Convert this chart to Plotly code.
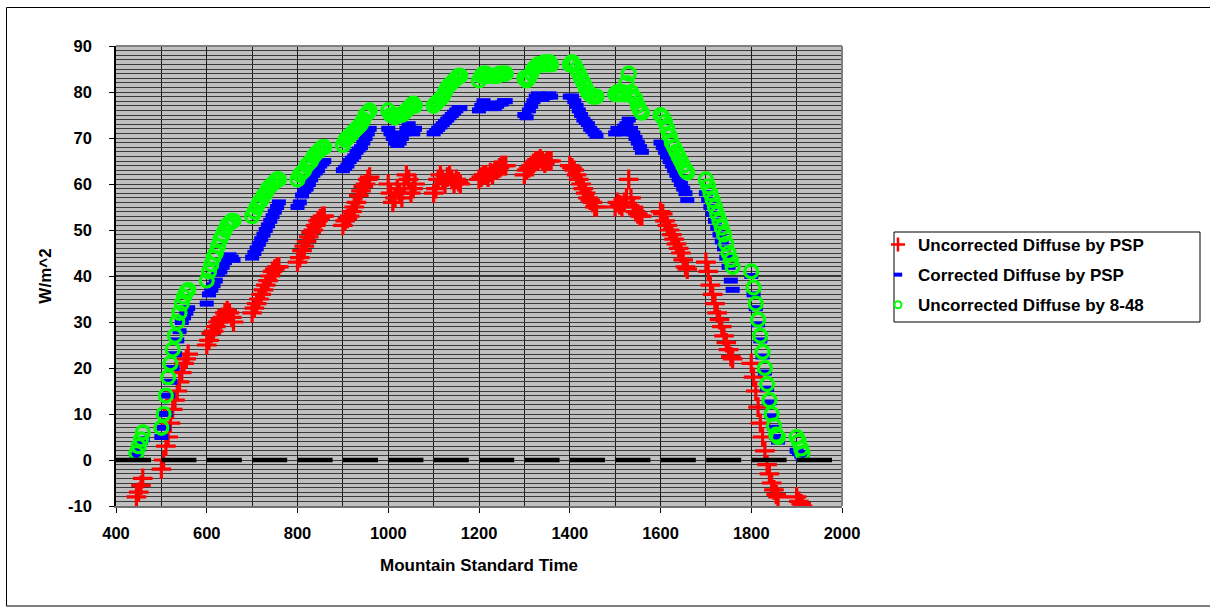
import plotly.graph_objects as go

# Mountain Standard Time (HHMM)
times = [
    445, 450, 455, 459,
    500, 505, 510, 515, 520, 525, 530, 535, 540, 545, 550, 555, 559,
    600, 605, 610, 615, 620, 625, 630, 635, 640, 645, 650, 655, 659,
    700, 705, 710, 715, 720, 725, 730, 735, 740, 745, 750, 755, 759,
    800, 805, 810, 815, 820, 825, 830, 835, 840, 845, 850, 855, 859,
    900, 905, 910, 915, 920, 925, 930, 935, 940, 945, 950, 955, 959,
    1000, 1005, 1010, 1015, 1020, 1025, 1030, 1035, 1040, 1045, 1050, 1055, 1059,
    1100, 1105, 1110, 1115, 1120, 1125, 1130, 1135, 1140, 1145, 1150, 1155, 1159,
    1200, 1205, 1210, 1215, 1220, 1225, 1230, 1235, 1240, 1245, 1250, 1255, 1259,
    1300, 1305, 1310, 1315, 1320, 1325, 1330, 1335, 1340, 1345, 1350, 1355, 1359,
    1400, 1405, 1410, 1415, 1420, 1425, 1430, 1435, 1440, 1445, 1450, 1455, 1459,
    1500, 1505, 1510, 1515, 1520, 1525, 1530, 1535, 1540, 1545, 1550, 1555, 1559,
    1600, 1605, 1610, 1615, 1620, 1625, 1630, 1635, 1640, 1645, 1650, 1655, 1659,
    1700, 1705, 1710, 1715, 1720, 1725, 1730, 1735, 1740, 1745, 1750, 1755, 1759,
    1800, 1805, 1810, 1815, 1820, 1825, 1830, 1835, 1840, 1845, 1850, 1855, 1859,
    1900, 1905, 1910, 1913,
]

uncorrected_psp = [
    -8, -7, -5.5, -4,
    -2, 0, 3, 5, 8, 11, 13, 15, 17, 19, 21, 22, 23,
    25, 26, 27.5, 28, 29, 30, 30.5, 31, 32, 32.5, 32, 31, 30,
    32, 33, 34, 35, 36, 37, 38, 39, 40, 41, 41.5, 42, 42,
    43, 44, 45.5, 46.5, 47.5, 48.5, 49.5, 50, 51, 52, 52.5, 53, 53,
    51, 52, 52.5, 53, 54, 55, 56, 57.5, 58.5, 59.5, 60, 61, 61.5,
    60, 58, 56, 57, 59, 58, 57, 60, 62, 61, 58, 59, 60,
    58, 59, 61, 62, 61, 60, 61.5, 62, 61, 60, 61, 60.5, 60,
    61, 61.5, 62, 62, 61.5, 62.5, 62, 63, 63, 63.5, 64, 64, 64,
    62, 63, 63.5, 64, 64.5, 65, 65, 65.5, 65, 64.5, 65, 65, 65,
    64, 63.5, 63, 62, 61, 60, 59, 58, 57, 56.5, 56, 55, 55,
    55, 56, 55.5, 55, 56, 57, 61, 57, 55, 54, 53.5, 53, 53,
    54, 53.5, 52, 51, 50, 49, 48, 47, 46, 45, 43.5, 42, 41.5,
    43, 41, 38, 36, 34, 32, 30.5, 29, 27, 25.5, 24, 22.5, 22,
    21, 18, 15, 11.5, 8, 5, 2, -1, -3, -5, -6.5, -7.5, -8,
    -8, -9, -9.5, -10,
]

corrected_psp = [
    1, 2.5, 4, 4.5,
    5, 7, 10, 14, 17, 20, 23, 26, 28, 30, 31, 32, 33,
    34, 36, 37, 38, 39, 40.5, 41, 42, 43, 44, 44.5, 44, 43.5,
    44, 45, 46, 47, 48, 49, 50, 51, 52, 53, 54, 55, 56,
    55, 56, 57.5, 58.5, 59, 60, 61, 62, 62.5, 63, 64, 64.5, 65,
    63, 63.5, 64, 65, 65.5, 66, 67, 67.5, 68, 69, 70, 71, 72,
    72, 71, 70, 69, 68.5, 69, 70, 71, 72, 73, 72, 71, 72,
    71, 71.5, 72, 72.5, 73, 73.5, 74, 74.5, 75, 75.5, 76, 76.5, 76.5,
    76, 77, 78, 77.5, 77, 76.5, 77, 76.5, 77, 77.5, 77.5, 78, 78,
    75, 74.5, 76, 77, 78, 79, 79.5, 79, 78.5, 79, 79, 79.5, 79,
    79, 79, 78, 77, 76, 75, 74, 73.5, 73, 72, 71.5, 71, 70.5,
    71, 72, 71.5, 71, 72.5, 73, 74, 72, 71, 70, 69, 68, 67,
    69, 68, 67, 66, 65, 64, 63, 62, 61, 60, 59, 58, 56.5,
    58, 56.5, 55, 53.5, 52, 50.5, 49, 47.5, 46, 44, 42, 39, 37,
    40, 36, 33, 29.5, 26, 22.5, 19, 15.5, 12.5, 9.5, 7, 5, 4,
    2, 1.5, 1, 0.5,
]

uncorrected_848 = [
    1.5, 3, 4.5, 6,
    7, 10, 14, 18, 21, 24, 27, 30, 32, 34, 35.5, 36.5, 37,
    39, 41, 42.5, 44, 45, 46.5, 48, 49, 50, 51, 51.5, 52, 52,
    53, 54, 55, 56, 56.5, 57.5, 58, 59, 59.5, 60, 60.5, 61, 61,
    61, 62, 62.5, 63, 64, 64.5, 65, 66, 66.5, 67, 67.5, 68, 68,
    68.5, 69.5, 70, 70.5, 71, 71.5, 72, 72.5, 73, 74, 75, 75.5, 76,
    76, 75, 75, 74.5, 75, 75, 75, 75.5, 76, 76.5, 77, 77.5, 77,
    77, 77.5, 78, 78.5, 79, 80, 81, 81.5, 82, 82.5, 83, 83.5, 83.5,
    82.5, 83.5, 84, 84, 83.5, 83.5, 83.5, 83.5, 83.5, 84, 84, 84, 84,
    83, 82.5, 83, 84, 85, 85.5, 86, 86, 86, 86.5, 86, 86.5, 86,
    86, 86.5, 86, 85, 84, 83, 82, 81, 80, 79.5, 79, 79, 79,
    79.5, 80, 79.5, 80, 79.5, 82, 84, 80, 79, 78.5, 77, 76, 75.5,
    75, 74.5, 73.5, 72, 70.5, 69, 68, 67, 66, 65, 64, 63, 62.5,
    61, 59.5, 58, 56.5, 55, 53.5, 52, 50.5, 49, 47, 45, 43.5, 42,
    41, 37.5, 34, 30.5, 27, 23.5, 20, 16.5, 13, 10, 7.5, 5.5, 5,
    5, 4, 2.5, 1.5,
]

zero_x = [400, 2000]
zero_y = [0, 0]

series_names = ["Uncorrected Diffuse by PSP", "Corrected Diffuse by PSP", "Uncorrected Diffuse by 8-48"]
x_ticks = [400, 600, 800, 1000, 1200, 1400, 1600, 1800, 2000]
x_tick_labels = ["400", "600", "800", "1000", "1200", "1400", "1600", "1800", "2000"]
y_ticks = [-10, 0, 10, 20, 30, 40, 50, 60, 70, 80, 90]
y_tick_labels = ["-10", "0", "10", "20", "30", "40", "50", "60", "70", "80", "90"]

FONT = "Liberation Sans, Arial, sans-serif"
RED, BLUE, GREEN = "#FF0000", "#0000FF", "#00FF00"

fig = go.Figure()
# data traces
fig.add_trace(go.Scatter(
    x=times, y=uncorrected_psp, mode="markers", name=series_names[0], showlegend=False,
    marker=dict(symbol="cross-thin", size=14, color=RED, line=dict(color=RED, width=3.2)),
))
fig.add_trace(go.Scatter(
    x=times, y=corrected_psp, mode="markers", name=series_names[1], showlegend=False,
    marker=dict(symbol="line-ew", size=10, color=BLUE, line=dict(color=BLUE, width=6)),
))
fig.add_trace(go.Scatter(
    x=times, y=uncorrected_848, mode="markers", name=series_names[2], showlegend=False,
    marker=dict(symbol="circle-open", size=13, color=GREEN, line=dict(color=GREEN, width=3.2)),
))
fig.add_trace(go.Scatter(
    x=zero_x, y=zero_y, mode="lines", showlegend=False, hoverinfo="skip",
    line=dict(color="black", width=4.5, dash="35px,10.4px"),
))
# legend entries (smaller symbols, as in the original legend)
fig.add_trace(go.Scatter(
    x=[None], y=[None], mode="markers", name=series_names[0], legendgroup="a",
    marker=dict(symbol="cross-thin", size=10, color=RED, line=dict(color=RED, width=2.5)),
))
fig.add_trace(go.Scatter(
    x=[None], y=[None], mode="markers", name=series_names[1], legendgroup="b",
    marker=dict(symbol="line-ew", size=6, color=BLUE, line=dict(color=BLUE, width=4)),
))
fig.add_trace(go.Scatter(
    x=[None], y=[None], mode="markers", name=series_names[2], legendgroup="c",
    marker=dict(symbol="circle-open", size=7, color=GREEN, line=dict(color=GREEN, width=2)),
))

W, H = 1210, 607
L, R, T, B = 116, 842, 46, 506

def px_x(p):
    return (p - L) / (R - L)

def px_y(p):
    return (B - p) / (B - T)

fig.update_layout(
    width=W, height=H,
    margin=dict(l=L, r=W - R, t=T, b=H - B, pad=0, autoexpand=False),
    paper_bgcolor="white",
    plot_bgcolor="#c0c0c0",
    font=dict(family=FONT, size=16, color="black"),
    showlegend=True,
    legend=dict(
        x=px_x(878), y=px_y(227), xanchor="left", yanchor="top",
        bgcolor="rgba(0,0,0,0)", borderwidth=0,
        font=dict(family=FONT, size=17, color="black", weight="bold"),
        tracegroupgap=5, itemsizing="trace",
    ),
    xaxis=dict(
        range=[400, 2000], tickmode="array", tickvals=x_ticks, ticktext=x_tick_labels,
        ticks="outside", ticklen=5, tickcolor="black", tickwidth=1,
        ticklabelstandoff=6,
        tickfont=dict(family=FONT, size=16.5, color="black", weight="bold"),
        showgrid=True, gridcolor="#1a1a1a", gridwidth=1.3,
        minor=dict(dtick=100, showgrid=True, gridcolor="#1a1a1a", gridwidth=1.3),
        showline=True, linecolor="#707070", linewidth=2,
        zeroline=False,
        title=dict(text="Mountain Standard Time", standoff=18,
                   font=dict(family=FONT, size=17, color="black", weight="bold")),
    ),
    yaxis=dict(
        range=[-10, 90], tickmode="array", tickvals=y_ticks, ticktext=y_tick_labels,
        ticks="outside", ticklen=5, tickcolor="black", tickwidth=1,
        ticklabelstandoff=14,
        tickfont=dict(family=FONT, size=16.5, color="black", weight="bold"),
        showgrid=True, gridcolor="#3a3a3a", gridwidth=1.4,
        minor=dict(dtick=1, showgrid=True, gridcolor="#3a3a3a", gridwidth=1.4),
        showline=True, linecolor="black", linewidth=1.5,
        zeroline=False,
        title=dict(text="W/m^2", standoff=12,
                   font=dict(family=FONT, size=17, color="black", weight="bold")),
    ),
    shapes=[
        dict(type="line", xref="paper", yref="y", x0=0, x1=1, y0=40, y1=40,
             line=dict(color="black", width=1.5), layer="between"),
        dict(type="line", xref="paper", yref="paper", x0=0, x1=1, y0=1, y1=1,
             line=dict(color="#808080", width=2), layer="above"),
        dict(type="line", xref="paper", yref="paper", x0=1, x1=1, y0=0, y1=1,
             line=dict(color="#808080", width=2), layer="above"),
        dict(type="rect", xref="paper", yref="paper",
             x0=px_x(894), x1=px_x(1200), y0=px_y(322), y1=px_y(232),
             line=dict(color="black", width=1), fillcolor="rgba(0,0,0,0)", layer="above"),
        dict(type="rect", xref="paper", yref="paper",
             x0=px_x(6.5), x1=px_x(1216), y0=px_y(606), y1=px_y(7.5),
             line=dict(color="black", width=1), fillcolor="rgba(0,0,0,0)", layer="above"),
    ],
)

fig.write_html(
    "out.html",
    config={"displayModeBar": False},
    post_script="document.body.style.margin='0';document.body.style.padding='0';",
)
